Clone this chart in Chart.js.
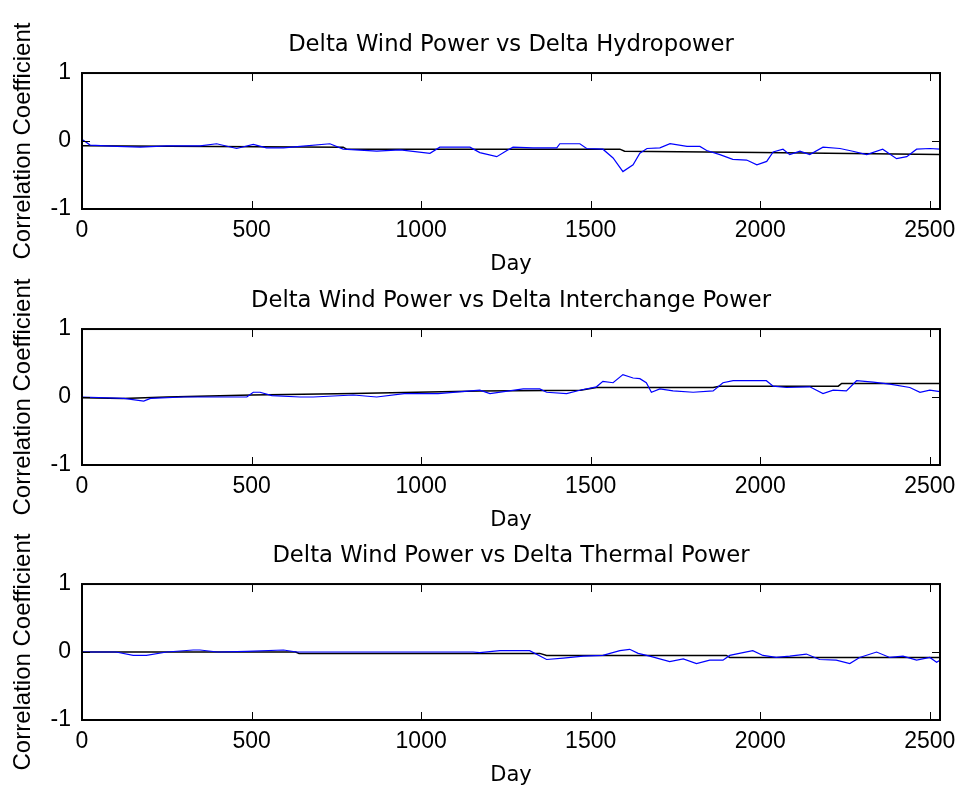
<!DOCTYPE html>
<html>
<head>
<meta charset="utf-8">
<script src="https://cdn.jsdelivr.net/npm/chart.js@4.4.0/dist/chart.umd.min.js"></script>
<style>
  html, body { margin: 0; padding: 0; background: #fff; }
  #wrap { position: relative; width: 957px; height: 788px; overflow: hidden; }
  #wrap canvas { position: absolute; left: 0; }
</style>
</head>
<body>
<div id="wrap">
  <canvas id="hydro" width="957" height="277" style="top:0px"></canvas>
  <canvas id="interchange" width="957" height="277" style="top:256px"></canvas>
  <canvas id="thermal" width="957" height="277" style="top:511px"></canvas>
</div>
<script>
const dayTicks = [0, 500, 1000, 1500, 2000, 2500];
const corrTicks = [-1, 0, 1];
const dayMax = 2530;

const titles = [
  'Delta Wind Power vs Delta Hydropower',
  'Delta Wind Power vs Delta Interchange Power',
  'Delta Wind Power vs Delta Thermal Power'
];

// running correlation (blue)
const hydroDays = [0, 4, 24, 103, 172, 250, 348, 397, 456, 505, 544, 594, 643, 731, 770, 869, 938, 1026, 1055, 1144,
  1173, 1223, 1253, 1271, 1330, 1400, 1409, 1447, 1468, 1488, 1536, 1566, 1595, 1625, 1645, 1666, 1704, 1734, 1784, 1822,
  1842, 1881, 1919, 1960, 1990, 2019, 2038, 2067, 2087, 2117, 2146, 2185, 2235, 2273, 2314, 2361, 2402, 2432, 2461, 2500, 2530];
const hydroCorr = [0.02, 0.01, -0.06, -0.08, -0.09, -0.07, -0.07, -0.04, -0.11, -0.05, -0.1, -0.1, -0.08, -0.04, -0.12, -0.15, -0.13, -0.18, -0.09, -0.09,
  -0.17, -0.23, -0.14, -0.09, -0.1, -0.1, -0.04, -0.04, -0.04, -0.11, -0.12, -0.25, -0.45, -0.35, -0.18, -0.11, -0.1, -0.04, -0.08, -0.08,
  -0.14, -0.2, -0.27, -0.28, -0.35, -0.3, -0.16, -0.12, -0.2, -0.15, -0.2, -0.09, -0.11, -0.15, -0.2, -0.12, -0.26, -0.23, -0.12, -0.11, -0.12];

const interDays = [0, 123, 182, 202, 300, 416, 486, 505, 525, 560, 643, 682, 800, 869, 950, 1050, 1173, 1203, 1301, 1350,
  1370, 1429, 1468, 1517, 1536, 1566, 1595, 1625, 1645, 1664, 1679, 1704, 1743, 1802, 1861, 1890, 1920, 2018, 2038, 2077,
  2146, 2185, 2215, 2254, 2284, 2333, 2382, 2441, 2471, 2500, 2530];
const interCorr = [0.0, -0.02, -0.06, -0.02, 0.0, 0.0, 0.0, 0.07, 0.07, 0.02, 0.0, 0.0, 0.03, 0.0, 0.05, 0.05, 0.1, 0.05, 0.12, 0.12,
  0.07, 0.05, 0.1, 0.15, 0.23, 0.21, 0.33, 0.28, 0.27, 0.21, 0.07, 0.12, 0.09, 0.07, 0.09, 0.21, 0.24, 0.24, 0.16, 0.14,
  0.15, 0.05, 0.1, 0.09, 0.24, 0.22, 0.19, 0.14, 0.07, 0.1, 0.08];

const thermalDays = [0, 100, 151, 190, 250, 328, 348, 400, 485, 594, 633, 800, 1000, 1153, 1173, 1232, 1320, 1370, 1419, 1478,
  1536, 1586, 1615, 1640, 1674, 1733, 1773, 1812, 1851, 1890, 1910, 1949, 1978, 2008, 2047, 2087, 2136, 2175, 2224, 2264,
  2293, 2343, 2382, 2421, 2461, 2500, 2520, 2530];
const thermalCorr = [0.0, 0.0, -0.05, -0.05, 0.0, 0.03, 0.03, 0.0, 0.01, 0.03, 0.0, 0.0, 0.0, 0.0, -0.01, 0.02, 0.02, -0.11, -0.09, -0.06,
  -0.05, 0.02, 0.04, -0.02, -0.06, -0.14, -0.1, -0.17, -0.12, -0.12, -0.05, -0.01, 0.02, -0.05, -0.08, -0.06, -0.03, -0.11, -0.12, -0.17,
  -0.08, 0.0, -0.08, -0.06, -0.12, -0.08, -0.15, -0.12];

// overall correlation (black)
const hydroTrendDays = [0, 770, 780, 1586, 1600, 2000, 2530];
const hydroTrend = [-0.07, -0.09, -0.12, -0.12, -0.15, -0.17, -0.2];
const interTrendDays = [0, 120, 250, 500, 800, 1173, 1470, 1517, 1861, 1880, 2230, 2240, 2530];
const interTrend = [-0.01, -0.02, 0.0, 0.03, 0.05, 0.09, 0.1, 0.14, 0.14, 0.16, 0.16, 0.2, 0.2];
const thermalTrendDays = [0, 630, 640, 1350, 1370, 1900, 1910, 2530];
const thermalTrend = [0.0, 0.0, -0.02, -0.02, -0.05, -0.05, -0.08, -0.08];

Chart.defaults.font.family = '"Liberation Sans", Arial, sans-serif';
Chart.defaults.color = '#000';

const toPoints = (xs, ys) => xs.map((d, i) => ({ x: d, y: ys[i] }));

// box + inward ticks like the original figure
const boxTicks = {
    id: 'boxTicks',
    afterDatasetsDraw(chart) {
        const { ctx, chartArea: a, scales: { x, y } } = chart;
        ctx.save();
        ctx.strokeStyle = '#000';
        ctx.lineWidth = 1;
        ctx.beginPath();
        dayTicks.forEach(v => {
            const px = Math.round(x.getPixelForValue(v)) + 0.5;
            ctx.moveTo(px, a.bottom); ctx.lineTo(px, a.bottom - 8);
            ctx.moveTo(px, a.top); ctx.lineTo(px, a.top + 8);
        });
        corrTicks.forEach(v => {
            const py = Math.round(y.getPixelForValue(v)) + 0.5;
            ctx.moveTo(a.left, py); ctx.lineTo(a.left + 8, py);
            ctx.moveTo(a.right, py); ctx.lineTo(a.right - 8, py);
        });
        ctx.stroke();
        ctx.lineWidth = 2;
        ctx.strokeRect(a.left, a.top, a.right - a.left, a.bottom - a.top);
        ctx.restore();
    }
};

function makePanel(id, title, days, corr, trendDays, trend) {
    return new Chart(document.getElementById(id), {
        type: 'line',
        data: {
            datasets: [
                { data: toPoints(days, corr), borderColor: '#0000ff', borderWidth: 1.2, pointRadius: 0, tension: 0 },
                { data: toPoints(trendDays, trend), borderColor: '#000000', borderWidth: 1.5, pointRadius: 0, tension: 0 }
            ]
        },
        options: {
            responsive: false,
            animation: false,
            layout: { padding: { top: 31, left: 0, right: 17, bottom: 0 } },
            plugins: {
                legend: { display: false },
                tooltip: { enabled: false },
                title: {
                    display: true,
                    text: title,
                    fullSize: false,
                    color: '#000',
                    font: { family: '"DejaVu Sans", sans-serif', size: 22.7, weight: 'normal' },
                    padding: { top: 0, bottom: 14.8 }
                }
            },
            scales: {
                x: {
                    type: 'linear',
                    min: 0,
                    max: dayMax,
                    afterBuildTicks: s => { s.ticks = dayTicks.map(v => ({ value: v })); },
                    afterFit: s => { s.height = 68; s.paddingLeft = 0; s.paddingRight = 0; },
                    grid: { display: false, drawTicks: false },
                    border: { display: false },
                    ticks: { autoSkip: false, maxRotation: 0, padding: 8, font: { size: 23 }, callback: v => String(v) },
                    title: {
                        display: true,
                        text: 'Day',
                        font: { family: '"DejaVu Sans", sans-serif', size: 21 },
                        padding: { top: 0, bottom: 0 }
                    }
                },
                y: {
                    min: -1,
                    max: 1,
                    afterBuildTicks: s => { s.ticks = corrTicks.map(v => ({ value: v })); },
                    afterFit: s => { s.width = 82; },
                    grid: { display: false, drawTicks: false },
                    border: { display: false },
                    ticks: { padding: 11, font: { size: 23 }, callback: v => String(v) },
                    title: {
                        display: true,
                        text: 'Correlation Coefficient',
                        font: { size: 24 },
                        padding: { top: 9, bottom: 0 }
                    }
                }
            }
        },
        plugins: [boxTicks]
    });
}

makePanel('hydro', titles[0], hydroDays, hydroCorr, hydroTrendDays, hydroTrend);
makePanel('interchange', titles[1], interDays, interCorr, interTrendDays, interTrend);
makePanel('thermal', titles[2], thermalDays, thermalCorr, thermalTrendDays, thermalTrend);
</script>
</body>
</html>
